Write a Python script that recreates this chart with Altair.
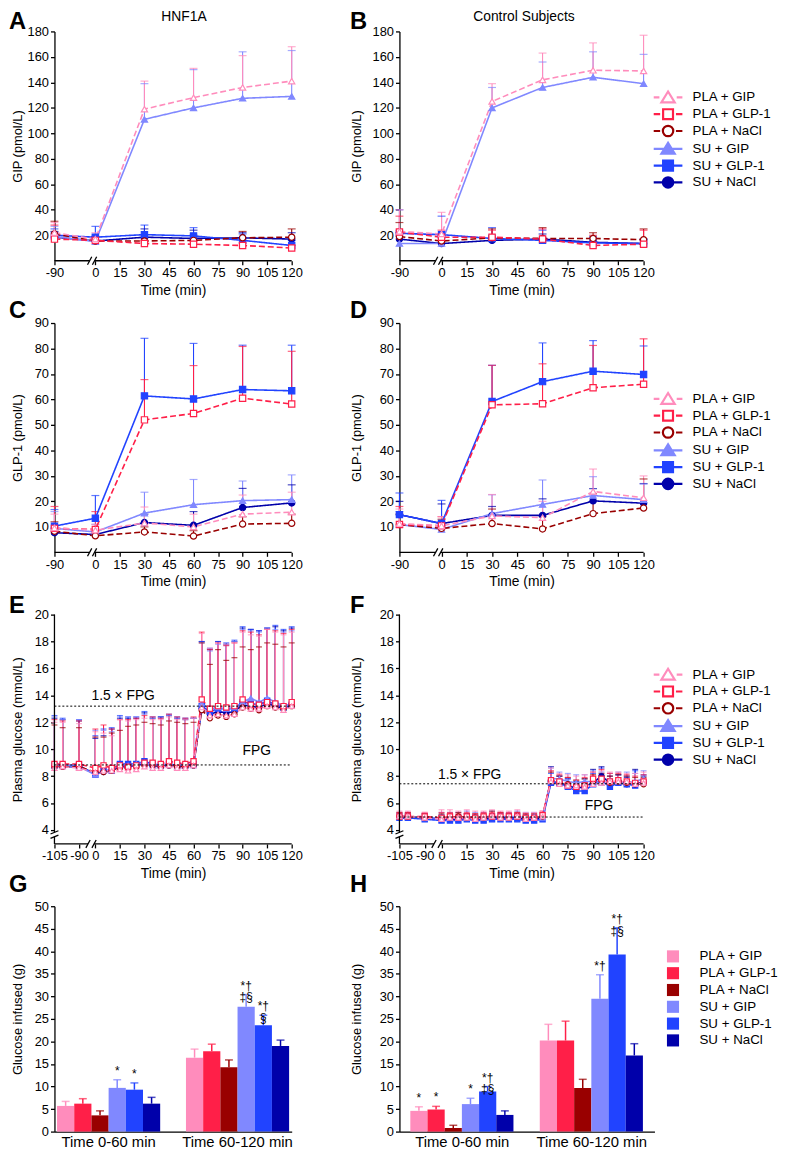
import altair as alt
import pandas as pd

FONT = "Liberation Sans"

SERIES = ["PLA + GIP", "PLA + GLP-1", "PLA + NaCl", "SU + GIP", "SU + GLP-1", "SU + NaCl"]
COLORS = ["#FF8CBC", "#FF1F48", "#990000", "#8088FF", "#2143FF", "#0000AA"]
FILLS = ["#FFFFFF", "#FFFFFF", "#FFFFFF", "#8088FF", "#2143FF", "#0000AA"]
SHAPES = ["triangle-up", "square", "circle", "triangle-up", "square", "circle"]
DASHES = [[6, 3], [6, 3], [6, 3], [1, 0], [1, 0], [1, 0]]
LEGEND_SYMBOLS = [
    "M-2.9,0H-1.75M1.75,0H2.9M0,-1.2L1.35,1L-1.35,1Z",
    "M-2.9,0H-1.6M1.6,0H2.9M-1,-1H1V1H-1Z",
    "M-2.9,0H-1.6M1.6,0H2.9M-1.05,0A1.05,1.05 0 1,1 1.05,0A1.05,1.05 0 1,1 -1.05,0Z",
    "M-2.9,0H2.9M0,-1.2L1.35,1L-1.35,1Z",
    "M-2.9,0H2.9M-1,-1H1V1H-1Z",
    "M-2.9,0H2.9M-1.05,0A1.05,1.05 0 1,1 1.05,0A1.05,1.05 0 1,1 -1.05,0Z",
]

# ---------------- hormone panels (A-D) ----------------
HORMONE_TIMES = [-90, 0, 30, 60, 90, 120]
HORMONE_TICKS = [-25, 0, 15, 30, 45, 60, 75, 90, 105, 120]

A_MEAN = [
    [22, 17, 119, 128, 136, 141],
    [17, 16, 13.5, 13, 12, 10],
    [21, 15.5, 15.5, 16, 18, 18.5],
    [19, 15, 111, 120, 127.5, 129],
    [20, 18.5, 20.5, 19.5, 16, 12],
    [18.5, 15.5, 18.5, 17.5, 18, 17],
]
A_UPPER = [
    [30, 22, 141, 151, 161, 168],
    [28, 19, 16, 15, 14, 12],
    [31, 19, 18, 20, 23, 25],
    [27, 20, 139, 150, 164, 165],
    [25, 27, 28, 26, 21, 16],
    [23, 19, 25, 24, 22, 22],
]
B_MEAN = [
    [23, 21, 125, 142, 149.5, 149],
    [22.5, 18.5, 18.5, 17, 12, 13],
    [19, 15.5, 18, 17.5, 17.5, 16.5],
    [13.5, 13.5, 120, 136, 144, 139],
    [21.5, 20.5, 17.5, 16, 14, 13.5],
    [17, 13.5, 16, 17, 14.5, 13.5],
]
B_UPPER = [
    [40, 38, 139, 163, 171, 177],
    [35, 24, 24, 25, 20, 24],
    [30, 20, 25, 26, 22, 25],
    [22, 20, 136, 156, 164, 162],
    [40, 35, 26, 24, 19, 17],
    [22, 18, 20, 21, 18, 17],
]
C_MEAN = [
    [9.6, 8.7, 11.5, 10, 15, 15.8],
    [9.4, 9, 52, 54.5, 60.5, 58.2],
    [8.3, 6.5, 8, 6.4, 11.1, 11.4],
    [9.4, 8, 15.4, 18.7, 20.3, 20.7],
    [10.3, 13.4, 61.4, 60.2, 63.9, 63.4],
    [7.7, 7, 11.7, 10.6, 17.6, 19.4],
]
C_UPPER = [
    [15, 11, 17.8, 15, 22.5, 23.6],
    [18, 16, 67.8, 73.3, 80.8, 78.9],
    [12, 8.5, 10, 8.5, 14, 15],
    [16, 11, 23.6, 28.6, 28, 30.4],
    [16.8, 22.3, 84, 82, 81.3, 81.3],
    [9.5, 9, 15, 16, 25.1, 26.5],
]
D_MEAN = [
    [11.3, 10.4, 14.3, 13.6, 23.9, 21.4],
    [10.9, 10.4, 57.9, 58.3, 64.6, 66],
    [10.9, 9.4, 11.3, 9.2, 15.2, 17.4],
    [10.9, 9, 15.2, 18.8, 22.3, 20.7],
    [14.8, 11.3, 59.2, 67, 71.1, 69.8],
    [14.8, 11.3, 14.5, 14.5, 20.2, 19.3],
]
D_UPPER = [
    [17, 14, 22.7, 20, 32.7, 30],
    [18, 14, 73.4, 74, 81.2, 83.8],
    [15, 13, 17, 14, 23, 28.8],
    [16, 12, 22.6, 28.4, 29.7, 26.8],
    [23.3, 20.4, 73.4, 82.2, 83.1, 81],
    [20, 19, 18, 21, 25, 27],
]

# ---------------- glucose clamp panels (E-F) ----------------
GLUCOSE_TIMES = [-105, -100, -90, 0, 5, 10, 15, 20, 25, 30, 35, 40, 45, 50, 55, 60,
                 65, 70, 75, 80, 85, 90, 95, 100, 105, 110, 115, 120]
GLUCOSE_TICKS = [-25, -10, 0, 15, 30, 45, 60, 75, 90, 105, 120]

E_MEAN = [
    [8.6, 8.7, 8.6, 8.3, 8.4, 8.4, 8.5, 8.4, 8.5, 8.7, 8.6, 8.6, 8.8, 8.6, 8.6, 8.8,
     13.1, 12.5, 12.6, 12.5, 12.6, 13.1, 13.0, 13.0, 13.2, 13.1, 12.9, 13.2],
    [8.9, 8.9, 8.9, 8.6, 8.8, 8.6, 8.8, 8.7, 8.8, 9.0, 9.0, 8.9, 9.1, 9.0, 8.9, 9.1,
     13.7, 13.0, 13.2, 13.1, 13.2, 13.7, 13.3, 13.3, 13.5, 13.4, 13.2, 13.5],
    [8.7, 8.7, 8.7, 8.3, 8.3, 8.4, 8.6, 8.6, 8.7, 8.8, 8.8, 8.7, 8.8, 8.7, 8.7, 8.8,
     12.9, 12.3, 12.5, 12.4, 12.6, 13.1, 13.0, 12.9, 13.2, 13.1, 13.0, 13.2],
    [8.8, 8.8, 8.7, 8.1, 8.4, 8.5, 8.8, 8.8, 8.9, 9.0, 8.8, 8.8, 8.9, 8.7, 8.8, 8.8,
     13.4, 13.0, 13.1, 13.0, 13.1, 13.5, 13.8, 13.5, 13.8, 13.5, 13.2, 13.4],
    [8.8, 8.8, 8.8, 8.1, 8.4, 8.4, 8.9, 8.9, 8.9, 9.1, 8.9, 8.8, 8.9, 8.8, 8.8, 8.9,
     13.2, 12.8, 13.0, 13.0, 13.0, 13.5, 13.4, 13.3, 13.6, 13.3, 13.1, 13.3],
    [8.7, 8.7, 8.7, 8.2, 8.3, 8.4, 8.7, 8.7, 8.8, 8.9, 8.8, 8.7, 8.8, 8.7, 8.7, 8.8,
     13.0, 12.6, 12.8, 12.7, 12.8, 13.3, 13.2, 13.1, 13.4, 13.2, 13.0, 13.3],
]
E_UPPER = [
    [12.0, 12.0, 11.9, 11.3, 11.2, 11.0, 12.2, 12.1, 12.2, 12.3, 12.2, 12.2, 12.4, 12.2, 12.2, 12.3,
     18.6, 17.5, 17.9, 17.8, 17.9, 18.7, 18.5, 18.4, 18.9, 18.7, 18.5, 18.7],
    [12.2, 12.1, 12.1, 11.5, 11.8, 11.5, 12.2, 12.2, 12.3, 12.5, 12.4, 12.3, 12.6, 12.4, 12.3, 12.4,
     18.7, 17.4, 17.9, 17.7, 17.9, 18.8, 18.7, 18.5, 18.9, 18.8, 18.6, 18.9],
    [11.8, 11.6, 11.6, 10.9, 10.9, 11.2, 11.4, 11.7, 11.8, 12.0, 11.9, 11.8, 12.1, 12.0, 11.9, 12.0,
     17.9, 16.3, 17.4, 16.6, 16.8, 17.6, 17.4, 17.6, 17.9, 17.8, 17.6, 17.9],
    [12.4, 12.2, 12.2, 11.4, 11.4, 11.3, 12.4, 12.4, 12.4, 12.6, 12.3, 12.3, 12.5, 12.3, 12.3, 12.3,
     17.9, 17.3, 17.8, 17.7, 18.0, 18.9, 18.8, 18.7, 19.0, 18.9, 18.7, 18.8],
    [12.5, 12.3, 12.2, 11.0, 11.5, 11.6, 12.5, 12.4, 12.4, 12.8, 12.4, 12.4, 12.6, 12.4, 12.3, 12.3,
     18.0, 17.5, 18.0, 17.9, 18.1, 19.1, 18.9, 18.8, 19.0, 19.2, 18.9, 19.1],
    [12.3, 12.2, 12.1, 10.8, 11.0, 11.5, 12.3, 12.3, 12.3, 12.7, 12.3, 12.4, 12.5, 12.3, 12.2, 12.3,
     18.0, 17.4, 18.0, 17.8, 18.0, 19.0, 18.9, 18.8, 19.0, 19.1, 18.8, 19.0],
]
F_MEAN = [
    [5.0, 5.0, 4.9, 4.8, 4.9, 4.9, 4.9, 4.8, 4.9, 5.0, 4.9, 4.9, 5.0, 4.8, 4.9, 5.0,
     7.6, 7.4, 7.3, 7.3, 7.2, 7.4, 7.5, 7.6, 7.6, 7.6, 7.4, 7.5],
    [5.0, 5.0, 5.0, 4.9, 5.0, 4.9, 5.0, 4.9, 5.0, 5.0, 5.0, 5.0, 5.0, 4.9, 4.9, 5.1,
     7.7, 7.6, 7.3, 7.2, 7.3, 7.8, 7.8, 7.6, 7.7, 7.6, 7.5, 7.6],
    [5.0, 5.0, 4.9, 4.9, 4.9, 5.0, 4.9, 4.9, 4.9, 5.0, 4.9, 4.9, 5.0, 4.9, 4.9, 5.0,
     7.7, 7.5, 7.4, 7.2, 7.3, 7.6, 7.7, 7.5, 7.6, 7.5, 7.4, 7.4],
    [5.0, 5.0, 4.9, 4.9, 4.9, 4.9, 5.0, 4.9, 5.0, 5.0, 5.0, 5.0, 5.0, 4.9, 5.0, 4.9,
     7.8, 7.8, 7.6, 7.5, 7.6, 7.6, 7.5, 7.6, 7.6, 7.5, 7.6, 7.8],
    [4.9, 4.9, 4.8, 4.7, 4.7, 4.7, 4.8, 4.7, 4.7, 4.8, 4.8, 4.8, 4.8, 4.7, 4.7, 4.8,
     7.5, 7.5, 7.2, 6.9, 6.9, 7.4, 7.7, 7.2, 7.5, 7.4, 7.3, 7.5],
    [4.9, 4.9, 4.9, 4.8, 4.8, 4.8, 4.9, 4.8, 4.8, 4.9, 4.9, 4.9, 4.9, 4.8, 4.8, 4.9,
     7.6, 7.5, 7.3, 7.1, 7.2, 7.5, 8.0, 7.5, 7.6, 7.4, 7.5, 7.5],
]
F_UPPER = [
    [5.4, 5.4, 5.3, 5.5, 5.5, 5.4, 5.5, 5.4, 5.4, 5.5, 5.4, 5.4, 5.5, 5.3, 5.3, 5.4,
     8.6, 8.2, 8.1, 8.0, 8.1, 8.3, 8.4, 8.3, 8.3, 8.2, 8.2, 8.3],
    [5.3, 5.3, 5.3, 5.3, 5.3, 5.2, 5.3, 5.2, 5.3, 5.3, 5.3, 5.3, 5.3, 5.2, 5.2, 5.4,
     8.4, 8.1, 7.9, 7.7, 7.9, 8.3, 8.5, 8.2, 8.2, 8.1, 8.0, 8.1],
    [5.3, 5.3, 5.2, 5.2, 5.2, 5.3, 5.2, 5.2, 5.2, 5.4, 5.3, 5.2, 5.3, 5.2, 5.2, 5.3,
     8.3, 8.0, 7.9, 7.7, 7.8, 8.1, 8.2, 8.0, 8.1, 8.0, 7.9, 7.9],
    [5.3, 5.3, 5.2, 5.3, 5.3, 5.3, 5.4, 5.3, 5.3, 5.4, 5.3, 5.3, 5.4, 5.3, 5.3, 5.2,
     8.6, 8.3, 8.2, 8.1, 8.1, 8.4, 8.3, 8.2, 8.3, 8.3, 8.2, 8.4],
    [5.2, 5.2, 5.1, 5.1, 5.1, 5.1, 5.2, 5.1, 5.1, 5.2, 5.2, 5.2, 5.2, 5.1, 5.1, 5.2,
     8.2, 8.0, 7.8, 7.5, 7.6, 8.2, 8.6, 7.8, 8.1, 8.0, 8.4, 8.1],
    [5.2, 5.2, 5.2, 5.1, 5.1, 5.1, 5.2, 5.1, 5.1, 5.2, 5.2, 5.2, 5.2, 5.1, 5.1, 5.2,
     8.7, 8.0, 7.8, 7.6, 7.8, 8.5, 8.7, 8.0, 8.1, 7.9, 8.5, 8.0],
]
E_FPG = 8.83
E_FPG15 = 13.2
F_FPG = 4.96
F_FPG15 = 7.43

# ---------------- glucose infused (G-H) ----------------
PERIODS = ["Time 0-60 min", "Time 60-120 min"]
BAR_TICKS = [0, 5, 10, 15, 20, 25, 30, 35, 40, 45, 50]
G_MEAN = [[5.7, 6.2, 3.6, 9.7, 9.3, 6.2], [16.4, 17.8, 14.3, 27.7, 23.6, 19.0]]
G_UPPER = [[6.7, 7.3, 4.6, 11.5, 10.8, 7.6], [18.3, 19.4, 15.9, 30.4, 25.8, 20.3]]
G_MARKS = [["", "", "", "*", "*", ""], ["", "", "", "*†\n‡§", "*†\n§", ""]]
H_MEAN = [[4.6, 4.9, 0.8, 6.1, 8.9, 3.7], [20.2, 20.2, 9.7, 29.5, 39.3, 16.9]]
H_UPPER = [[5.5, 5.6, 1.4, 7.4, 10.0, 4.6], [23.8, 24.5, 11.6, 34.8, 45.2, 19.5]]
H_MARKS = [["*", "*", "", "*", "*†\n‡§", ""], ["", "", "", "*†", "*†\n‡§", ""]]

for grp in (A_MEAN, A_UPPER, B_MEAN, B_UPPER, C_MEAN, C_UPPER, D_MEAN, D_UPPER):
    assert all(len(r) == len(HORMONE_TIMES) for r in grp)
for grp in (E_MEAN, E_UPPER, F_MEAN, F_UPPER):
    assert all(len(r) == len(GLUCOSE_TIMES) for r in grp)

ONE = pd.DataFrame({"k": [0]})


def long_table(times, means, uppers):
    rows = []
    # SU series first so that the PLA series are drawn on top, as in the figure
    for s, ms, us in list(zip(SERIES, means, uppers))[::-1]:
        for t, m, u in zip(times, ms, us):
            rows.append({"series": s, "t": t, "mean": m, "upper": u})
    return pd.DataFrame(rows)


def label(txt, x, y, size, weight="normal", align="left", baseline="alphabetic"):
    return alt.Chart(pd.DataFrame({"label": [txt]})).mark_text(
        font=FONT, fontSize=size, fontWeight=weight, align=align, baseline=baseline, color="black"
    ).encode(text="label:N", x=alt.value(x), y=alt.value(y))


def line_panel(times, means, uppers, shift, ydom, yvals, ytitle, xticks, width, height,
               letter, letter_x, letter_y, title_x, msize, cap, title=None, legend_xy=None,
               ybreak=None, xbreak=(-3.5, -0.5), refs=(), notes=()):
    df = long_table(times, means, uppers)
    xs = alt.Scale(domain=[-25, 120], nice=False, zero=False)
    ys = alt.Scale(domain=ydom, nice=False, zero=False)
    xaxis = alt.Axis(values=xticks, title="Time (min)", domain=False, tickSize=4, labelPadding=2,
                     titlePadding=4, labelFontSize=13, titleFontSize=14, labelOverlap=False,
                     labelFlush=False, grid=False,
                     labelExpr=f"datum.value < 0 ? '-' + ({shift} - datum.value) : datum.label")
    yaxis = alt.Axis(values=yvals, title=ytitle, titleX=title_x, domain=(ybreak is None), tickSize=4,
                     labelPadding=2, labelFontSize=13, titleFontSize=13, labelOverlap=False, grid=False)

    def XD(v):
        return alt.X(datum=v, scale=xs, axis=xaxis)

    def YD(v):
        return alt.Y(datum=v, scale=ys, axis=yaxis)

    def rule(**enc):
        return alt.Chart(ONE).mark_rule(color="black", strokeWidth=1.3).encode(**enc)

    X = alt.X("pos:Q", scale=xs, axis=xaxis)
    Ym = alt.Y("mean:Q", scale=ys, axis=yaxis)
    Yu = alt.Y("upper:Q", scale=ys, axis=yaxis)
    stroke = alt.Stroke("series:N", scale=alt.Scale(domain=SERIES, range=COLORS), legend=None)
    base = alt.Chart(df).transform_calculate(pos=f"datum.t < 0 ? datum.t + {shift} : datum.t")

    layers = [
        base.mark_rule(strokeWidth=1.1).encode(x=X, y=Ym, y2="upper:Q", stroke=stroke),
        base.mark_tick(orient="horizontal", size=cap, thickness=1.2).encode(
            x=X, y=Yu, color=alt.Color("series:N", scale=alt.Scale(domain=SERIES, range=COLORS), legend=None)),
        base.mark_line(strokeWidth=1.6).encode(
            x=X, y=Ym, stroke=stroke,
            strokeDash=alt.StrokeDash("series:N", scale=alt.Scale(domain=SERIES, range=DASHES), legend=None)),
        base.mark_point(filled=True, opacity=1, size=msize, strokeWidth=1.2).encode(
            x=X, y=Ym, stroke=stroke,
            shape=alt.Shape("series:N", scale=alt.Scale(domain=SERIES, range=SHAPES), legend=None),
            fill=alt.Fill("series:N", scale=alt.Scale(domain=SERIES, range=FILLS), legend=None)),
    ]
    for yv in refs:
        layers.append(alt.Chart(ONE).mark_rule(color="black", strokeWidth=1, strokeDash=[2, 2]).encode(
            x=XD(-25), x2=alt.X2(datum=120), y=YD(yv)))
    for txt, nx, ny in notes:
        layers.append(alt.Chart(pd.DataFrame({"label": [txt]})).mark_text(
            font=FONT, fontSize=14, align="center", baseline="middle", color="black"
        ).encode(text="label:N", x=XD(nx), y=YD(ny)))
    # broken x axis line
    layers.append(rule(x=XD(-25), x2=alt.X2(datum=xbreak[0]), y=alt.value(height)))
    layers.append(rule(x=XD(xbreak[1]), x2=alt.X2(datum=120), y=alt.value(height)))
    for b in xbreak:
        layers.append(rule(x=XD(b - 1.3), x2=alt.X2(datum=b + 1.3),
                           y=alt.value(height + 4), y2=alt.value(height - 4)))
    if ybreak is not None:
        lo, hi = ybreak
        layers.append(rule(x=alt.value(0), y=YD(hi), y2=alt.Y2(datum=ydom[1])))
        layers.append(rule(x=alt.value(0), y=YD(ydom[0]), y2=alt.Y2(datum=lo)))
        for b in ybreak:
            layers.append(rule(x=alt.value(-4), x2=alt.value(4), y=YD(b - 0.12), y2=alt.Y2(datum=b + 0.12)))
    layers.append(label(letter, letter_x, letter_y, 24, weight="bold"))
    if title is not None:
        layers.append(label(title[0], title[1], title[2], 14, align="center", baseline="middle"))
    resolve = False
    if legend_xy is not None:
        props = dict(orient="none", legendX=legend_xy[0], legendY=legend_xy[1], title=None,
                     labelFontSize=13.5, labelFont=FONT, labelColor="black", symbolSize=100,
                     symbolStrokeWidth=2.2, labelOffset=18, rowPadding=-3, labelLimit=300)
        layers.append(
            alt.Chart(df).transform_filter("false").mark_point(filled=True, opacity=1, strokeWidth=2.2).encode(
                shape=alt.Shape("series:N", scale=alt.Scale(domain=SERIES, range=LEGEND_SYMBOLS),
                                legend=alt.Legend(**props)),
                stroke=alt.Stroke("series:N", scale=alt.Scale(domain=SERIES, range=COLORS),
                                  legend=alt.Legend(**props)),
                fill=alt.Fill("series:N", scale=alt.Scale(domain=SERIES, range=FILLS),
                              legend=alt.Legend(**props)),
            ))
        resolve = True
    ch = alt.layer(*layers).properties(width=width, height=height)
    if resolve:
        ch = ch.resolve_scale(shape="independent", stroke="independent", fill="independent")
    return ch


def bar_panel(means, uppers, marks, width, height, pin, pout, letter, letter_x, letter_y, title_x,
              legend_xy=None):
    rows = []
    for p, ms, us, ns in zip(PERIODS, means, uppers, marks):
        for s, m, u, n in zip(SERIES, ms, us, ns):
            rows.append({"period": p, "series": s, "value": m, "upper": u, "note": n})
    df = pd.DataFrame(rows)
    X = alt.X("period:N", scale=alt.Scale(domain=PERIODS, paddingInner=pin, paddingOuter=pout),
              axis=alt.Axis(title=None, labelAngle=0, labelFontSize=15, ticks=False, labelPadding=3))
    XO = alt.XOffset("series:N", scale=alt.Scale(domain=SERIES, paddingInner=0, paddingOuter=0))
    ys = alt.Scale(domain=[0, 50], nice=False, zero=True)
    yaxis = alt.Axis(values=BAR_TICKS, title="Glucose infused (g)", titleX=title_x, tickSize=4,
                     labelPadding=2, labelFontSize=13, titleFontSize=13, grid=False, labelOverlap=False)
    cscale = alt.Scale(domain=SERIES, range=COLORS)
    if legend_xy is not None:
        leg = alt.Legend(orient="none", legendX=legend_xy[0], legendY=legend_xy[1], title=None,
                         symbolType="square", symbolSize=150, symbolStrokeWidth=0, labelFontSize=13.5,
                         labelFont=FONT, labelColor="black", labelOffset=20, rowPadding=2, labelLimit=300)
    else:
        leg = None
    base = alt.Chart(df)
    layers = [
        base.mark_bar().encode(x=X, xOffset=XO, y=alt.Y("value:Q", scale=ys, axis=yaxis),
                               color=alt.Color("series:N", scale=cscale, legend=leg)),
        base.mark_rule(strokeWidth=1.5).encode(x=X, xOffset=XO, y=alt.Y("value:Q", scale=ys, axis=yaxis),
                                               y2="upper:Q",
                                               color=alt.Color("series:N", scale=cscale, legend=None)),
        base.mark_tick(orient="horizontal", size=8, thickness=1.5).encode(
            x=X, xOffset=XO, y=alt.Y("upper:Q", scale=ys, axis=yaxis),
            color=alt.Color("series:N", scale=cscale, legend=None)),
        base.mark_text(font=FONT, fontSize=12, baseline="bottom", dy=-2, lineBreak="\n", lineHeight=12,
                       color="black").encode(
            x=X, xOffset=XO, y=alt.Y("upper:Q", scale=ys, axis=yaxis), text="note:N"),
        label(letter, letter_x, letter_y, 24, weight="bold"),
    ]
    ch = alt.layer(*layers).properties(width=width, height=height)
    if legend_xy is not None:
        ch = ch.resolve_scale(color="independent")
    return ch


W1, W2 = 240, 247
HT = 232
LX1, LX2 = -46, -50
TX1, TX2 = -30, -36

A = line_panel(HORMONE_TIMES, A_MEAN, A_UPPER, 65, [0, 180], list(range(20, 181, 20)), "GIP (pmol/L)",
               HORMONE_TICKS, W1, HT, "A", LX1, -2, TX1, 40, 8, title=("HNF1A", 131, -15))
B = line_panel(HORMONE_TIMES, B_MEAN, B_UPPER, 65, [0, 180], list(range(20, 181, 20)), "GIP (pmol/L)",
               HORMONE_TICKS, W2, HT, "B", LX2, -2, TX2, 40, 8, title=("Control Subjects", 126, -15),
               legend_xy=(265, 60))
C = line_panel(HORMONE_TIMES, C_MEAN, C_UPPER, 65, [0, 90], list(range(10, 91, 10)), "GLP-1 (pmol/L)",
               HORMONE_TICKS, W1, HT, "C", LX1, -5, TX1, 40, 8)
D = line_panel(HORMONE_TIMES, D_MEAN, D_UPPER, 65, [0, 90], list(range(10, 91, 10)), "GLP-1 (pmol/L)",
               HORMONE_TICKS, W2, HT, "D", LX2, -5, TX2, 40, 8, legend_xy=(265, 70))
E = line_panel(GLUCOSE_TIMES, E_MEAN, E_UPPER, 80, [2.96, 20], list(range(4, 21, 2)),
               "Plasma glucose (mmol/L)", GLUCOSE_TICKS, W1, HT, "E", LX1, -2, TX1, 28, 6,
               ybreak=(3.5, 3.82), xbreak=(-4.5, -0.8), refs=(E_FPG15, E_FPG),
               notes=(("1.5 × FPG", 17, 13.94), ("FPG", 98.6, 9.9)))
F = line_panel(GLUCOSE_TIMES, F_MEAN, F_UPPER, 80, [2.96, 20], list(range(4, 21, 2)),
               "Plasma glucose (mmol/L)", GLUCOSE_TICKS, W2, HT, "F", LX2, -2, TX2, 28, 6,
               ybreak=(3.5, 3.82), xbreak=(-4.5, -0.8), refs=(F_FPG15, F_FPG),
               notes=(("1.5 × FPG", 16.7, 8.07), ("FPG", 93.5, 5.8)), legend_xy=(265, 54))
G = bar_panel(G_MEAN, G_UPPER, G_MARKS, 240, 228, 0.2, 0.02, "G", LX1, -14, TX1)
H = bar_panel(H_MEAN, H_UPPER, H_MARKS, 258, 228, 0.198, 0.084, "H", LX2, -14, TX2, legend_xy=(270, 44))

chart = alt.concat(A, B, C, D, E, F, G, H, columns=2, spacing={"row": 63, "column": 109},
                   bounds="flush", align="each",
                   padding={"top": -6, "left": 0, "right": 0, "bottom": 0}).configure_axis(
    labelFont=FONT, titleFont=FONT, labelColor="black", titleColor="black", domainColor="black",
    tickColor="black", domainWidth=1.3, tickWidth=1.3, titleFontWeight="normal", labelOverlap=False
).configure_view(stroke="transparent").configure_legend(labelFont=FONT, labelColor="black")

chart.save("out.html", embed_options={"renderer": "svg", "actions": False})
